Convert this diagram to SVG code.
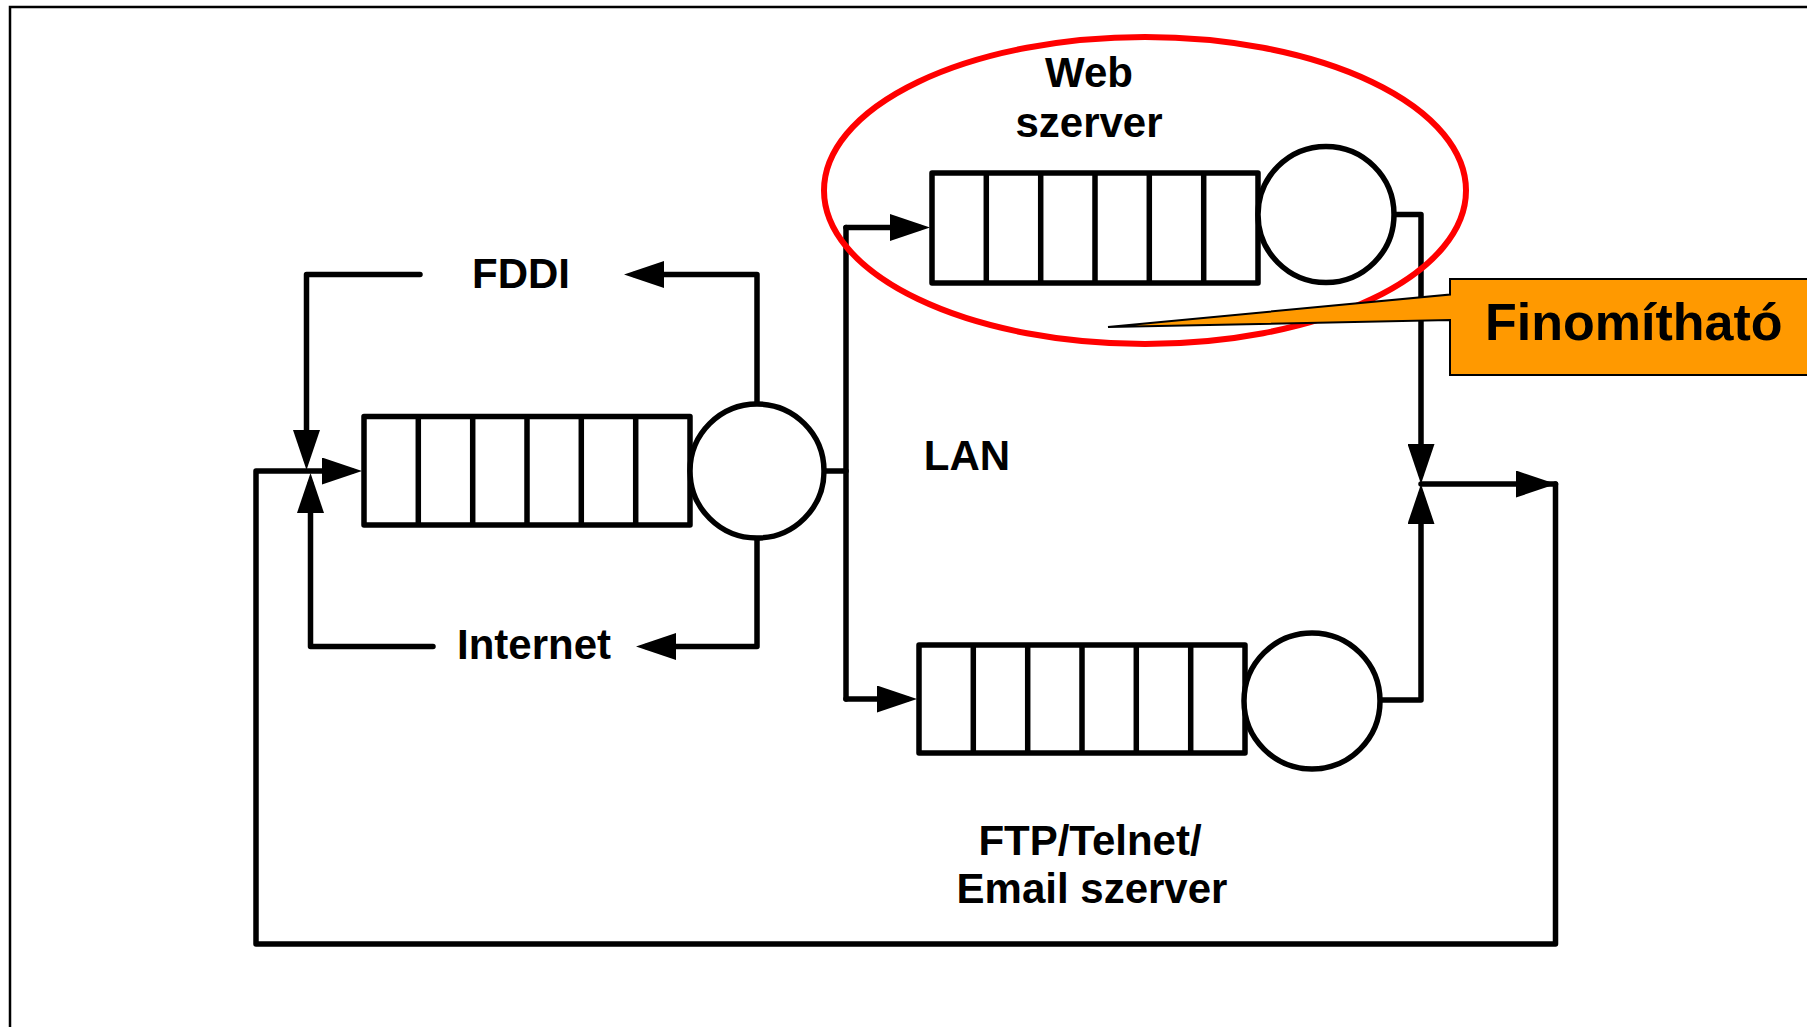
<svg xmlns="http://www.w3.org/2000/svg" width="1807" height="1027" viewBox="0 0 1807 1027">
  <style>
    .ln { fill: none; stroke: #000; stroke-width: 5.5; stroke-linecap: round; stroke-linejoin: round; }
    .q { fill: #fff; stroke: #000; stroke-width: 5.5; stroke-linejoin: round; }
    .dv { stroke: #000; stroke-width: 5.5; }
    .srv { fill: #fff; stroke: #000; stroke-width: 5.5; }
    .lbl { font-family: "Liberation Sans", Arial, sans-serif; font-weight: bold; font-size: 42px; fill: #000; text-anchor: middle; }
  </style>
  <defs>
    <marker id="arr" viewBox="0 0 40 27" refX="30" refY="13.5" markerWidth="40" markerHeight="27" markerUnits="userSpaceOnUse" orient="auto">
      <path d="M0,0 L40,13.5 L0,27 Z" fill="#000"/>
    </marker>
  </defs>
  <rect x="0" y="0" width="1807" height="1027" fill="#fff"/>
  <rect id="frame" x="10" y="7" width="1900" height="1100" fill="none" stroke="#000" stroke-width="2.5"/>

  <g id="connectors">
    <path class="ln" d="M757,403 V274.5 H634" marker-end="url(#arr)"/>
    <path class="ln" d="M420,274.5 H306.5 V460" marker-end="url(#arr)"/>
    <path class="ln" d="M757,538 V646.5 H646" marker-end="url(#arr)"/>
    <path class="ln" d="M433,646.5 H310.5 V483" marker-end="url(#arr)"/>
    <path class="ln" d="M1421,484 H1546" marker-end="url(#arr)"/>
    <path class="ln" d="M1555.5,484 V944 H256 V471 H352" marker-end="url(#arr)"/>
    <path class="ln" d="M1546,484 H1555.5"/>
    <path class="ln" d="M824,471 H846"/>
    <path class="ln" d="M846,227.5 V699"/>
    <path class="ln" d="M846,227.5 H920" marker-end="url(#arr)"/>
    <path class="ln" d="M846,699 H907" marker-end="url(#arr)"/>
    <path class="ln" d="M1393,214.5 H1421 V474" marker-end="url(#arr)"/>
    <path class="ln" d="M1379,700 H1421 V494" marker-end="url(#arr)"/>
  </g>

  <g id="internal-node">
    <rect class="q" x="364" y="416.5" width="326" height="108.5"/>
    <path class="dv" d="M418.3,416.5 V525 M472.7,416.5 V525 M527,416.5 V525 M581.3,416.5 V525 M635.7,416.5 V525"/>
    <circle class="srv" cx="757" cy="471" r="67"/>
  </g>

  <g id="web-server">
    <rect class="q" x="932" y="173" width="326" height="110"/>
    <path class="dv" d="M986.3,173 V283 M1040.7,173 V283 M1095,173 V283 M1149.3,173 V283 M1203.7,173 V283"/>
    <circle class="srv" cx="1326" cy="214.5" r="68"/>
    <text class="lbl" x="1089" y="87">Web</text>
    <text class="lbl" x="1089" y="137">szerver</text>
  </g>

  <g id="ftp-server">
    <rect class="q" x="919" y="645" width="326" height="108"/>
    <path class="dv" d="M973.3,645 V753 M1027.7,645 V753 M1082,645 V753 M1136.3,645 V753 M1190.7,645 V753"/>
    <circle class="srv" cx="1312" cy="701" r="68"/>
    <text class="lbl" x="1090" y="855">FTP/Telnet/</text>
    <text class="lbl" x="1092" y="903">Email szerver</text>
  </g>

  <g id="labels">
    <text class="lbl" x="521" y="288">FDDI</text>
    <text class="lbl" x="534" y="659">Internet</text>
    <text class="lbl" x="967" y="470">LAN</text>
  </g>

  <g id="highlight">
    <ellipse cx="1145" cy="190.5" rx="321" ry="153.5" fill="none" stroke="#ff0000" stroke-width="6"/>
  </g>

  <g id="callout">
    <path d="M1450,279 H1840 V375 H1450 V320 L1108,327 L1450,294.5 Z" fill="#ff9900" stroke="#000" stroke-width="2"/>
    <text x="1485" y="340" font-family="'Liberation Sans', Arial, sans-serif" font-weight="bold" font-size="52" fill="#000">Finomítható</text>
  </g>
</svg>
